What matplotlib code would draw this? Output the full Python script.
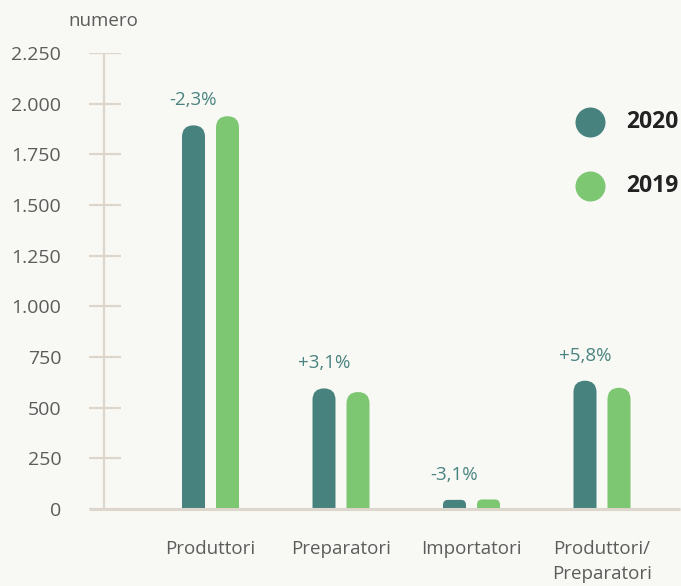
import matplotlib
matplotlib.use("Agg")
import matplotlib.pyplot as plt
from matplotlib.patches import FancyBboxPatch, BoxStyle

plt.rcParams['font.family'] = ['Open Sans', 'DejaVu Sans']

categories = ["Produttori", "Preparatori", "Importatori", "Produttori/\nPreparatori"]
values_2020 = [1893, 595, 45, 633]
values_2019 = [1938, 577, 47, 598]
changes = ["-2,3%", "+3,1%", "-3,1%", "+5,8%"]
yticks = [0, 250, 500, 750, 1000, 1250, 1500, 1750, 2000, 2250]
ytick_labels = ["0", "250", "500", "750", "1.000", "1.250", "1.500", "1.750", "2.000", "2.250"]
series_names = ["2020", "2019"]

BG = "#f8f8f4"
C2020 = "#47827e"
C2019 = "#7dc672"
AXC = "#ddd6cc"
TXT = "#5c5c5c"
PCT = "#4a8480"

W, H = 681, 586
fig = plt.figure(figsize=(W / 100, H / 100), dpi=100, facecolor=BG)
ax_left, ax_right, ax_bot, ax_top = 89, 680, 509, 53
ax = fig.add_axes([ax_left / W, (H - ax_bot) / H, (ax_right - ax_left) / W, (ax_bot - ax_top) / H])
ax.set_facecolor(BG)

group_px = 130.5
xmin = -(210.5 - ax_left) / group_px
xmax = xmin + (ax_right - ax_left) / group_px
ax.set_xlim(xmin, xmax)
ax.set_ylim(0, 2250)
ypx = 2250 / (ax_bot - ax_top)  # data units per pixel

bar_w = 23 / group_px
off = 17 / group_px
radius_y = 11.5 * ypx
aspect = radius_y / (bar_w / 2)
xpx = 1 / group_px

for i, (v20, v19) in enumerate(zip(values_2020, values_2019)):
    for x, v, c in [(i - off, v20, C2020), (i + off, v19, C2019)]:
        hpx = v / ypx
        r = min(bar_w / 2, max(hpx * 0.55, 1) * xpx)
        if r < bar_w / 2:
            base = -r * aspect * 1.5
        else:
            base = -400
        p = FancyBboxPatch((x - bar_w / 2, base), bar_w, v - base,
                           boxstyle=BoxStyle.Round(pad=0, rounding_size=r),
                           mutation_aspect=aspect, fc=c, ec="none", clip_on=True, zorder=2)
        ax.add_patch(p)
    ax.text(i - off, v20 + 25 * ypx, changes[i], ha="center", va="center",
            fontsize=13.5, color=PCT, zorder=4)

# axis line, ticks, baseline
xaxis_line = xmin + (104 - ax_left) / group_px
ax.plot([xaxis_line, xaxis_line], [0, 2250], color=AXC, lw=1.6, zorder=1, solid_capstyle="butt")
ax.hlines(yticks, xmin, xmin + (121 - ax_left) / group_px, color=AXC, lw=1.6, zorder=1)
ax.plot([xmin, xmax], [0, 0], color=AXC, lw=2.2, zorder=3, clip_on=False, solid_capstyle="butt")

for s in ax.spines.values():
    s.set_visible(False)
ax.set_yticks(yticks, ytick_labels)
ax.set_xticks(range(len(categories)), categories)
ax.tick_params(axis="y", length=0, pad=20, labelsize=14, labelcolor=TXT)
ax.tick_params(axis="x", length=0, pad=22, labelsize=13.5, labelcolor=TXT)
for lab in ax.get_xticklabels():
    lab.set_linespacing(1.5)
    lab.set_multialignment("center")

fig.text(103 / W, 1 - 21 / H, "numero", ha="center", va="center", fontsize=13.5, color=TXT)

# legend
for name, c, yp in [(series_names[0], C2020, 122), (series_names[1], C2019, 186)]:
    ax.scatter([(590 - ax_left) / (ax_right - ax_left)], [(ax_bot - yp) / (ax_bot - ax_top)],
               s=(30 * 0.72) ** 2, color=c, transform=ax.transAxes, clip_on=False, zorder=5, linewidths=0)
    ax.text((626 - ax_left) / (ax_right - ax_left), (ax_bot - yp) / (ax_bot - ax_top), name,
            transform=ax.transAxes, ha="left", va="center", fontsize=16.5, fontweight="bold",
            color="#222222")

fig.savefig("out.png", dpi=100, facecolor=BG)
